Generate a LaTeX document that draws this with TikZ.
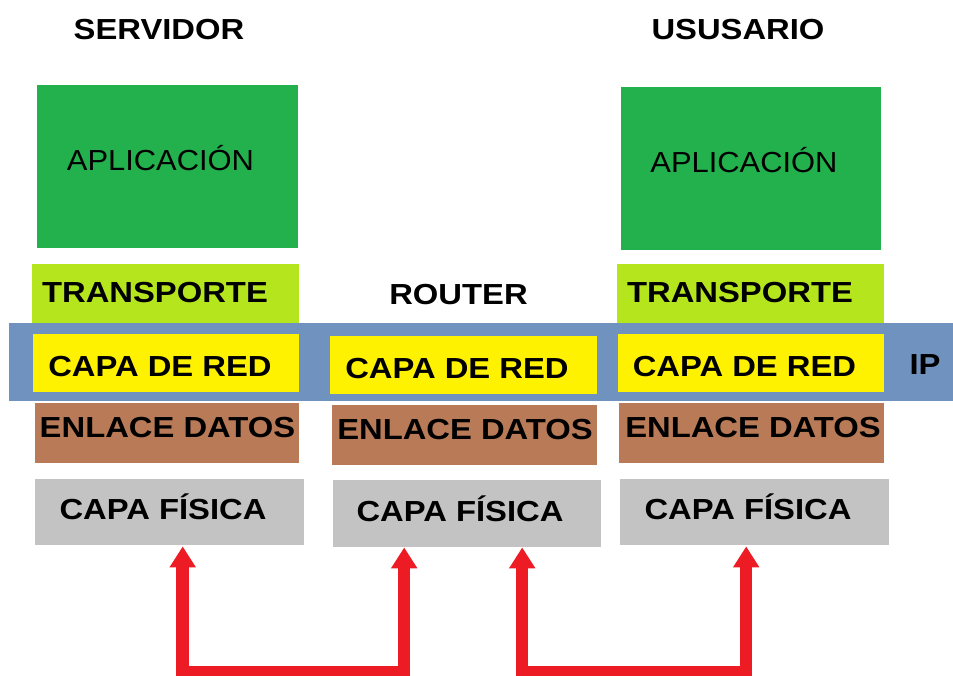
\documentclass[tikz,border=0pt]{standalone}
\usepackage{fontspec}
\usepackage{graphicx}
\setmainfont{Liberation Sans}
\usetikzlibrary{arrows.meta}
\definecolor{cgreen}{HTML}{22B14C}
\definecolor{clime}{HTML}{B5E61D}
\definecolor{cblue}{HTML}{7092BE}
\definecolor{cyellow}{HTML}{FFF200}
\definecolor{cbrown}{HTML}{B97A57}
\definecolor{cgray}{HTML}{C3C3C3}
\definecolor{cred}{HTML}{ED1C24}
\newcommand\btxt[1]{\scalebox{1.13}[1]{\bfseries #1}}
\newcommand\rtxt[1]{\scalebox{1.065}[1]{#1}}
\tikzset{
  layerbox/.style={draw=none, inner sep=0pt, anchor=north west},
  lbl/.style={anchor=base, inner sep=0pt, font=\fontsize{29}{34}\selectfont, text=black},
  linkarrow/.style={draw=cred, line width=12.5pt, line join=miter,
    {Triangle[width=25pt,length=21pt]}-{Triangle[width=25pt,length=21pt]}}
}
\begin{document}
\begin{tikzpicture}[x=1pt,y=-1pt]
\useasboundingbox (0,0) rectangle (953,676);
% boxes
\node[layerbox, fill=cgreen, minimum width=261pt, minimum height=163pt] (apl1) at (37,85) {};
\node[layerbox, fill=cgreen, minimum width=260pt, minimum height=163pt] (apl3) at (621,87) {};
\node[layerbox, fill=clime, minimum width=267pt, minimum height=59pt] (tr1) at (32,264) {};
\node[layerbox, fill=clime, minimum width=267pt, minimum height=59pt] (tr3) at (617,264) {};
\node[layerbox, fill=cblue, minimum width=944pt, minimum height=78pt] (band) at (9,323) {};
\node[layerbox, fill=cyellow, minimum width=266pt, minimum height=58pt] (red1) at (33,334) {};
\node[layerbox, fill=cyellow, minimum width=267pt, minimum height=58pt] (red2) at (330,336) {};
\node[layerbox, fill=cyellow, minimum width=266pt, minimum height=58pt] (red3) at (618,334) {};
\node[layerbox, fill=cbrown, minimum width=264pt, minimum height=60pt] (enl1) at (35,403) {};
\node[layerbox, fill=cbrown, minimum width=265pt, minimum height=60pt] (enl2) at (332,405) {};
\node[layerbox, fill=cbrown, minimum width=265pt, minimum height=60pt] (enl3) at (619,403) {};
\node[layerbox, fill=cgray, minimum width=269pt, minimum height=66pt] (fis1) at (35,479) {};
\node[layerbox, fill=cgray, minimum width=268pt, minimum height=67pt] (fis2) at (333,480) {};
\node[layerbox, fill=cgray, minimum width=269pt, minimum height=66pt] (fis3) at (620,479) {};
% titles
\node[lbl] (tserv) at (159,39.5) {\btxt{SERVIDOR}};
\node[lbl] (tusu) at (738,39.5) {\btxt{USUSARIO}};
\node[lbl] (trout) at (458.5,304.5) {\btxt{ROUTER}};
\node[lbl] (tip) at (925,374.5) {\btxt{IP}};
% labels
\node[lbl] (lapl1) at (160.5,170.5) {\rtxt{APLICACIÓN}};
\node[lbl] (lapl3) at (744,172.5) {\rtxt{APLICACIÓN}};
\node[lbl] (ltr1) at (155,303) {\btxt{TRANSPORTE}};
\node[lbl] (ltr3) at (740,303) {\btxt{TRANSPORTE}};
\node[lbl] (lred1) at (160,376) {\btxt{CAPA DE RED}};
\node[lbl] (lred2) at (457,378) {\btxt{CAPA DE RED}};
\node[lbl] (lred3) at (744.5,376) {\btxt{CAPA DE RED}};
\node[lbl] (lenl1) at (167.5,437.5) {\btxt{ENLACE DATOS}};
\node[lbl] (lenl2) at (465,439.5) {\btxt{ENLACE DATOS}};
\node[lbl] (lenl3) at (753,437.5) {\btxt{ENLACE DATOS}};
\node[lbl] (lfis1) at (163,519.5) {\btxt{CAPA FÍSICA}};
\node[lbl] (lfis2) at (460,521.5) {\btxt{CAPA FÍSICA}};
\node[lbl] (lfis3) at (748,519.5) {\btxt{CAPA FÍSICA}};
% arrows
\coordinate (bot1) at (0,672);
\draw[linkarrow] ([xshift=13pt,yshift=-1pt]fis1.south) -- ([xshift=13pt]fis1.south |- bot1) -| ([xshift=-63pt]fis2.south);
\draw[linkarrow] ([xshift=55pt]fis2.south) -- ([xshift=55pt]fis2.south |- bot1) -| ([xshift=-8.5pt,yshift=-1pt]fis3.south);
\end{tikzpicture}
\end{document}
